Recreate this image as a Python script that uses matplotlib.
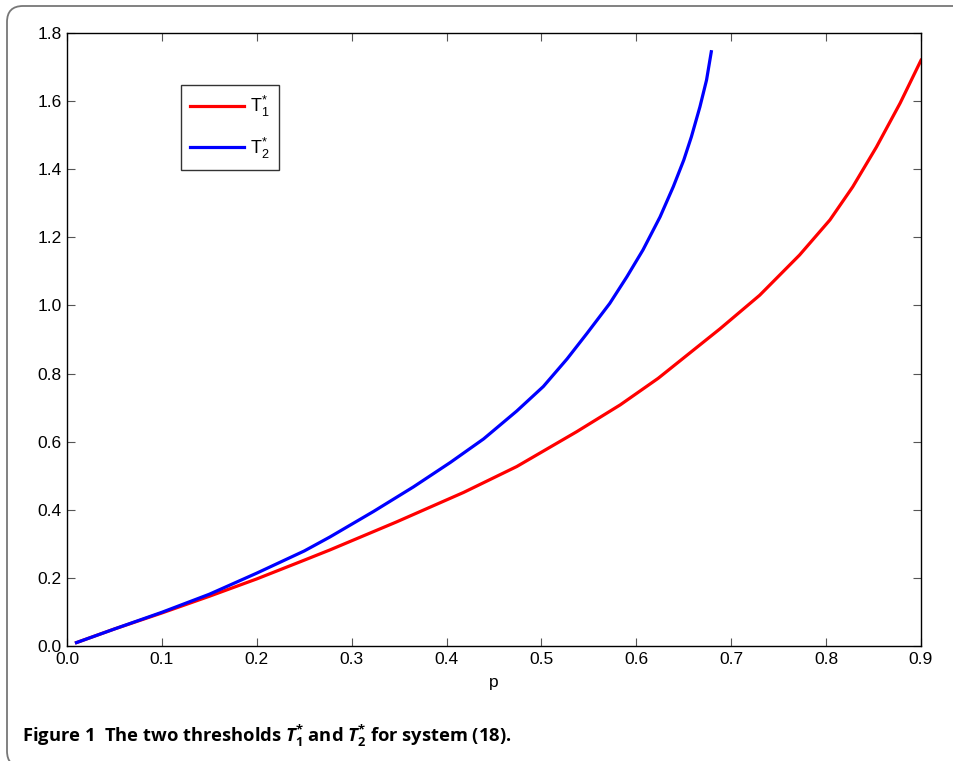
import numpy as np
import matplotlib
matplotlib.use("Agg")
import matplotlib.pyplot as plt
from matplotlib.patches import FancyBboxPatch

plt.rcParams['font.family'] = ['Liberation Sans', 'DejaVu Sans']
plt.rcParams['mathtext.fontset'] = 'custom'
plt.rcParams['mathtext.rm'] = 'Liberation Sans'
plt.rcParams['mathtext.bf'] = 'Open Sans:bold'
plt.rcParams['mathtext.bfit'] = 'Open Sans:italic:bold'

# values
p_t1 = [0.01, 0.05, 0.10, 0.15, 0.20, 0.25, 0.277, 0.347, 0.418, 0.474,
        0.537, 0.583, 0.623, 0.688, 0.730, 0.772, 0.804, 0.828, 0.853,
        0.878, 0.900]
t1 = [0.010, 0.050, 0.097, 0.146, 0.197, 0.252, 0.282, 0.364, 0.451, 0.527,
      0.629, 0.708, 0.786, 0.931, 1.030, 1.148, 1.251, 1.348, 1.465,
      1.594, 1.720]

p_t2 = [0.01, 0.05, 0.10, 0.15, 0.20, 0.25, 0.277, 0.323, 0.365, 0.404,
        0.439, 0.474, 0.502, 0.527, 0.548, 0.572, 0.590, 0.607, 0.625,
        0.639, 0.650, 0.658, 0.667, 0.674, 0.679]
t2 = [0.010, 0.050, 0.099, 0.152, 0.214, 0.279, 0.320, 0.395, 0.467, 0.539,
      0.608, 0.690, 0.762, 0.843, 0.918, 1.006, 1.084, 1.163, 1.260,
      1.349, 1.427, 1.495, 1.583, 1.662, 1.745]

fig = plt.figure(figsize=(9.54, 7.61), dpi=100)
ax = fig.add_axes([67/954, (761-646)/761, 854/954, 613/761])

ax.plot(p_t1, t1, color="red", lw=2.3, label=r"T$^{*}_{1}$")
ax.plot(p_t2, t2, color="blue", lw=2.3, label=r"T$^{*}_{2}$")

ax.set_xlim(0, 0.9)
ax.set_ylim(0, 1.8)
ax.set_xticks(np.arange(0, 0.91, 0.1))
ax.set_yticks(np.arange(0, 1.81, 0.2))
ax.set_xticklabels([f"{v:.1f}" for v in np.arange(0, 0.91, 0.1)])
ax.set_yticklabels([f"{v:.1f}" for v in np.arange(0, 1.81, 0.2)])
ax.tick_params(direction="in", top=True, right=True, length=6,
               color="#555555", labelsize=12.5, pad=4)
for s in ax.spines.values():
    s.set_linewidth(1.0)
ax.set_xlabel("p", fontsize=12.5, labelpad=6)

leg = ax.legend(loc="upper left", bbox_to_anchor=(0.133, 0.915),
                fontsize=13, fancybox=False, edgecolor="black",
                handlelength=3.0, handletextpad=0.35, borderaxespad=0,
                borderpad=0.5, labelspacing=0.9)
leg.get_frame().set_linewidth(1.0)

fig.text(22/954, 1 - 742/761,
         r"Figure 1  The two thresholds $\mathbfit{T}_{\mathbf{1}}^{\mathbf{*}}$ and "
         r"$\mathbfit{T}_{\mathbf{2}}^{\mathbf{*}}$ for system (18).",
         fontsize=13.2, fontfamily="Open Sans", fontweight="bold",
         va="baseline", ha="left")

frame = FancyBboxPatch((7, -6), 1000, 761, boxstyle="round,pad=0,rounding_size=16",
                       transform=None, fill=False, edgecolor="#777777", lw=1.3)
fig.patches.append(frame)

fig.savefig("out.png", dpi=100)
